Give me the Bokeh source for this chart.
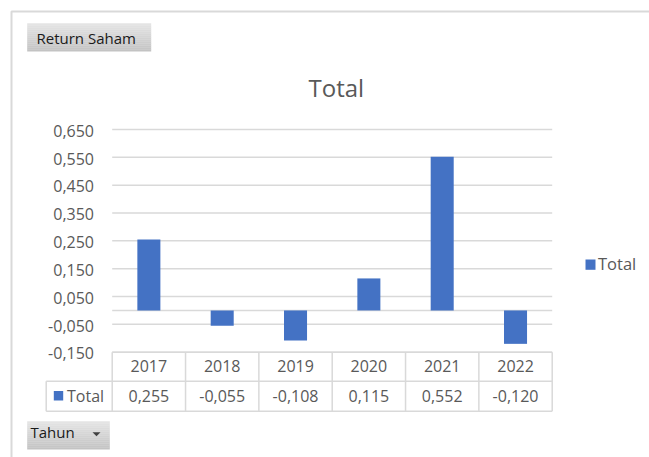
from bokeh.plotting import figure
from bokeh.models import Range1d
from bokeh.core.properties import value
from bokeh.embed import file_html
from bokeh.resources import INLINE

# ---------------- data ----------------
years = ["2017", "2018", "2019", "2020", "2021", "2022"]
returns = [0.255, -0.055, -0.108, 0.115, 0.552, -0.120]
series_name = "Total"
ytick_values = [-0.150, -0.050, 0.050, 0.150, 0.250, 0.350, 0.450, 0.550, 0.650]
ytick_labels = ["-0,150", "-0,050", "0,050", "0,150", "0,250", "0,350", "0,450", "0,550", "0,650"]
chart_title = "Total"
filter_label = "Return Saham"
axis_field_label = "Tahun"

# ---------------- layout (reference pixels) ----------------
W, H = 649, 457
OFF = 0
PLOT_L, PLOT_R = 111.7, 551.7
PLOT_T, PLOT_B = 129.0, 351.7
Y_MAX, Y_MIN = ytick_values[-1], ytick_values[0]
n = len(years)
XPX = (PLOT_R - PLOT_L) / n
YPX = (PLOT_B - PLOT_T) / (Y_MAX - Y_MIN)


def dx(rx):
    return -0.5 + (rx - PLOT_L) / XPX


def dy(ry):
    return Y_MAX - (ry - PLOT_T) / YPX


FONT = value("Open Sans")
GREY_TXT = "#595959"
GRID = "#d9d9d9"
BAR = "#4472C4"

p = figure(width=W, height=H, output_backend="svg", toolbar_location=None,
           x_range=Range1d(dx(OFF), dx(OFF + W)),
           y_range=Range1d(dy(OFF + H), dy(OFF)),
           x_axis_type=None, y_axis_type=None, min_border=0)
p.outline_line_color = None
p.background_fill_color = "white"
p.border_fill_color = "white"
p.grid.visible = False

idx = list(range(n))

# outer chart-area frame
p.line(x=[dx(11), dx(11), dx(660)], y=[dy(470), dy(11), dy(11)],
       line_color=GRID, line_width=2)

# gridlines + zero line
p.segment(x0=[dx(PLOT_L)] * len(ytick_values), x1=[dx(PLOT_R)] * len(ytick_values),
          y0=ytick_values, y1=ytick_values, line_color=GRID, line_width=1.5)
p.segment(x0=[dx(PLOT_L)], x1=[dx(PLOT_R)], y0=[0], y1=[0], line_color=GRID, line_width=1.5)

# bars
p.vbar(x=idx, top=returns, bottom=0, width=0.314, fill_color=BAR, line_color=None)

# y tick labels
p.text(x=[dx(93.5)] * len(ytick_values), y=[v - 1.2 / YPX for v in ytick_values],
       text=ytick_labels, text_align="right", text_baseline="middle",
       text_font=FONT, text_font_size="16px", text_color=GREY_TXT)

# title
p.text(x=[dx(335.8)], y=[dy(87.2)], text=[chart_title], text_align="center",
       text_baseline="middle", text_font=FONT, text_font_size="24px", text_color=GREY_TXT)

# right legend
p.quad(left=[dx(585)], right=[dx(595)], top=[dy(259)], bottom=[dy(269.3)],
       fill_color=BAR, line_color=None)
p.text(x=[dx(597.5)], y=[dy(263.2)], text=[series_name], text_align="left",
       text_baseline="middle", text_font=FONT, text_font_size="16.5px", text_color=GREY_TXT)

# data table
T_TOP, T_MID, T_BOT, T_LEFT = 351.7, 380.7, 410.7, 45.7
p.segment(x0=[dx(PLOT_L), dx(T_LEFT), dx(T_LEFT)], x1=[dx(PLOT_R)] * 3,
          y0=[dy(T_TOP), dy(T_MID), dy(T_BOT)], y1=[dy(T_TOP), dy(T_MID), dy(T_BOT)],
          line_color=GRID, line_width=1.5)
bounds = [i - 0.5 for i in range(n + 1)]
p.segment(x0=bounds, x1=bounds, y0=[dy(T_TOP)] * len(bounds), y1=[dy(T_BOT)] * len(bounds),
          line_color=GRID, line_width=1.5)
p.segment(x0=[dx(T_LEFT)], x1=[dx(T_LEFT)], y0=[dy(T_MID)], y1=[dy(T_BOT)],
          line_color=GRID, line_width=1.5)

p.text(x=idx, y=[dy(365.8)] * n, text=years, text_align="center",
       text_baseline="middle", text_font=FONT, text_font_size="16px", text_color=GREY_TXT)
value_labels = [f"{v:.3f}".replace(".", ",") for v in returns]
p.text(x=idx, y=[dy(395.3)] * n, text=value_labels, text_align="center",
       text_baseline="middle", text_font=FONT, text_font_size="16px", text_color=GREY_TXT)
p.quad(left=[dx(53.3)], right=[dx(62.7)], top=[dy(390.5)], bottom=[dy(400)],
       fill_color=BAR, line_color=None)
p.text(x=[dx(66.5)], y=[dy(395.0)], text=[series_name], text_align="left",
       text_baseline="middle", text_font=FONT, text_font_size="16px", text_color=GREY_TXT)


# pivot field buttons (gradient grey)
def button(l, r, t, b, steps=14, c0=(0xe4, 0xe4, 0xe4), c1=(0xc3, 0xc3, 0xc3)):
    h = (b - t) / steps
    lefts, rights, tops, bots, cols = [], [], [], [], []
    for k in range(steps):
        f = k / (steps - 1)
        c = tuple(int(round(c0[j] + (c1[j] - c0[j]) * f)) for j in range(3))
        lefts.append(dx(l)); rights.append(dx(r))
        tops.append(dy(t + k * h)); bots.append(dy(t + (k + 1) * h + 0.3))
        cols.append("#%02x%02x%02x" % c)
    p.quad(left=lefts, right=rights, top=tops, bottom=bots, fill_color=cols, line_color=None)


button(26.7, 150.7, 22.7, 50.7)
p.text(x=[dx(36.0)], y=[dy(37.8)], text=[filter_label], text_align="left",
       text_baseline="middle", text_font=FONT, text_font_size="15px", text_color="#1a1a1a")

button(26.7, 109.3, 420.7, 448.7)
p.text(x=[dx(30.0)], y=[dy(431.2)], text=[axis_field_label], text_align="left",
       text_baseline="middle", text_font=FONT, text_font_size="15px", text_color="#1a1a1a")
p.patch(x=[dx(92), dx(100), dx(96)], y=[dy(431.8), dy(431.8), dy(435.8)],
        fill_color="#404040", line_color=None)

open("out.html", "w").write(file_html(p, INLINE))
